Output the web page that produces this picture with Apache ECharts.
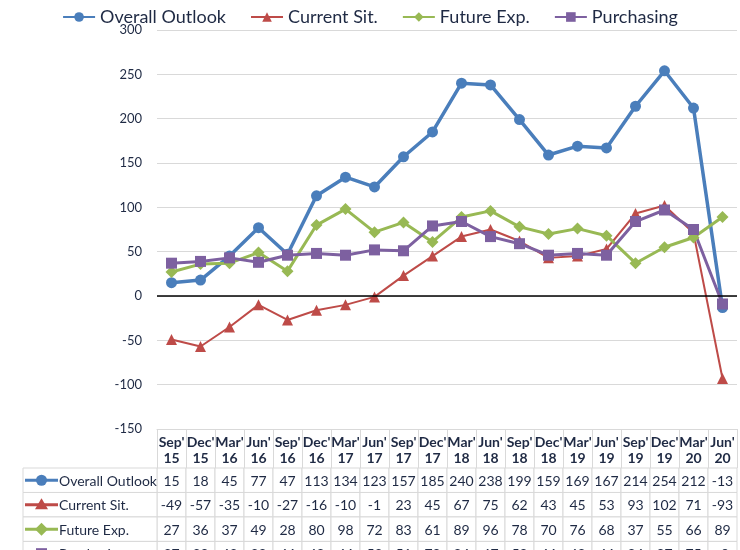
<!DOCTYPE html>
<html><head><meta charset="utf-8">
<script src="https://cdn.jsdelivr.net/npm/echarts@6/dist/echarts.min.js"></script>
<style>html,body{margin:0;padding:0;background:#fff}#c{width:740px;height:550px}</style>
</head><body><div id="c"></div>
<script>
const categories = ["Sep'15","Dec'15","Mar'16","Jun'16","Sep'16","Dec'16","Mar'17","Jun'17","Sep'17","Dec'17","Mar'18","Jun'18","Sep'18","Dec'18","Mar'19","Jun'19","Sep'19","Dec'19","Mar'20","Jun'20"];
const seriesNames = ["Overall Outlook","Current Sit.","Future Exp.","Purchasing"];
const overall    = [15,18,45,77,47,113,134,123,157,185,240,238,199,159,169,167,214,254,212,-13];
const currentSit = [-49,-57,-35,-10,-27,-16,-10,-1,23,45,67,75,62,43,45,53,93,102,71,-93];
const futureExp  = [27,36,37,49,28,80,98,72,83,61,89,96,78,70,76,68,37,55,66,89];
const purchasing = [37,39,43,38,46,48,46,52,51,79,84,67,59,46,48,46,84,97,75,-9];
const yTicks = {min:-150, max:300, interval:50};

const allValues = [overall, currentSit, futureExp, purchasing];
const colors = ['#4a7ebb','#be4b48','#98b954','#7d60a0'];
const symbols = ['circle','triangle','diamond','rect'];
const symSizes = [11, 11, 12, 11];
const lineWidths = [3.5, 2, 3, 3];
const navy = '#1f2a44';
const FONT = 'Lato, "Open Sans", sans-serif';
const visibleRows = 3.35; // part of the table rows that fits in the window

const tableData = [];
allValues.forEach((arr, r) => arr.forEach((v, i) => tableData.push([i, r + 0.5, v])));
const headData = seriesNames.map((n, r) => [0, r + 0.5]);

function renderCell(params, api) {
  const c = api.coord([api.value(0), api.value(1)]);
  const s = api.size([1, 1]);
  return {type:'group', children:[
    {type:'rect', shape:{x:c[0]-s[0]/2, y:c[1]-s[1]/2, width:s[0], height:s[1]},
     style:{fill:'#fff', stroke:'#d9d9d9', lineWidth:1}},
    {type:'text', style:{text:String(tableData[params.dataIndex][2]), x:c[0], y:c[1]+1,
     align:'center', verticalAlign:'middle', fill:navy, font:'14px ' + FONT}}
  ]};
}
function markerShape(r, mx, cy, col) {
  const h = 5.5;
  if (symbols[r] === 'circle') return {type:'circle', shape:{cx:mx, cy:cy, r:h}, style:{fill:col}};
  if (symbols[r] === 'triangle') return {type:'polygon', shape:{points:[[mx,cy-h-1],[mx+h+1,cy+h-1],[mx-h-1,cy+h-1]]}, style:{fill:col}};
  if (symbols[r] === 'diamond') return {type:'polygon', shape:{points:[[mx,cy-h-1],[mx+h+1,cy],[mx,cy+h+1],[mx-h-1,cy]]}, style:{fill:col}};
  return {type:'rect', shape:{x:mx-h, y:cy-h, width:2*h, height:2*h}, style:{fill:col}};
}
function renderHead(params, api) {
  const r = params.dataIndex;
  const c = api.coord([0, api.value(1)]);
  const s = api.size([1, 1]);
  const x0 = c[0]-s[0]/2, y0 = c[1]-s[1]/2;
  const col = colors[r];
  const cy = c[1];
  const ix = x0 + 2, iw = 33;
  return {type:'group', children:[
    {type:'rect', shape:{x:x0, y:y0, width:s[0], height:s[1]}, style:{fill:'#fff', stroke:'#d9d9d9', lineWidth:1}},
    {type:'line', shape:{x1:ix, y1:cy, x2:ix+iw, y2:cy}, style:{stroke:col, lineWidth:3}},
    markerShape(r, ix+iw/2, cy, col),
    {type:'text', style:{text:seriesNames[r], x:ix+iw+1, y:cy+1, align:'left', verticalAlign:'middle', fill:navy, font:'14px ' + FONT}}
  ]};
}

const lineSeries = seriesNames.map((name, k) => ({
  name: name, type:'line', xAxisIndex:0, yAxisIndex:0,
  data: allValues[k], symbol: symbols[k], symbolSize: symSizes[k],
  lineStyle:{color:colors[k], width:lineWidths[k]},
  itemStyle:{color:colors[k]},
  emphasis:{disabled:true}, animation:false,
  markLine: k === 0 ? {silent:true, symbol:'none', label:{show:false},
    lineStyle:{color:'#000', width:1.5, type:'solid'}, data:[{yAxis:0}]} : undefined
}));

const chart = echarts.init(document.getElementById('c'));
chart.setOption({
  animation:false,
  backgroundColor:'#fff',
  textStyle:{fontFamily:FONT},
  legend:{data:seriesNames, top:3, left:'center', itemWidth:32, itemHeight:12, itemGap:24,
    textStyle:{fontSize:18, color:navy, fontFamily:FONT}},
  grid:[
    {left:157, right:3, top:30, height:399},
    {left:157, right:3, top:468, bottom:0},
    {left:23, width:134, top:468, bottom:0}
  ],
  xAxis:[
    {type:'category', gridIndex:0, data:categories, boundaryGap:true, position:'bottom',
     axisLine:{onZero:false, lineStyle:{color:'#d9d9d9', width:1}},
     axisTick:{show:true, length:39, lineStyle:{color:'#d9d9d9'}},
     axisLabel:{interval:0, margin:5, fontSize:14, lineHeight:16, color:navy, fontWeight:'bold', fontFamily:FONT,
       formatter: s => s.replace("'", "'\n")},
     splitLine:{show:false}},
    {type:'category', gridIndex:1, data:categories, show:false},
    {type:'category', gridIndex:2, data:['h'], show:false}
  ],
  yAxis:[
    {type:'value', gridIndex:0, min:yTicks.min, max:yTicks.max, interval:yTicks.interval,
     axisLine:{show:false}, axisTick:{show:false},
     axisLabel:{fontSize:13, color:navy, margin:15, fontFamily:FONT},
     splitLine:{lineStyle:{color:'#d9d9d9', width:1}}},
    {type:'value', gridIndex:1, min:0, max:visibleRows, inverse:true, show:false},
    {type:'value', gridIndex:2, min:0, max:visibleRows, inverse:true, show:false}
  ],
  series: lineSeries.concat([
    {type:'custom', name:'table', xAxisIndex:1, yAxisIndex:1, data:tableData, renderItem:renderCell, silent:true, clip:false},
    {type:'custom', name:'rowhead', xAxisIndex:2, yAxisIndex:2, data:headData, renderItem:renderHead, silent:true, clip:false}
  ])
});
</script></body></html>
